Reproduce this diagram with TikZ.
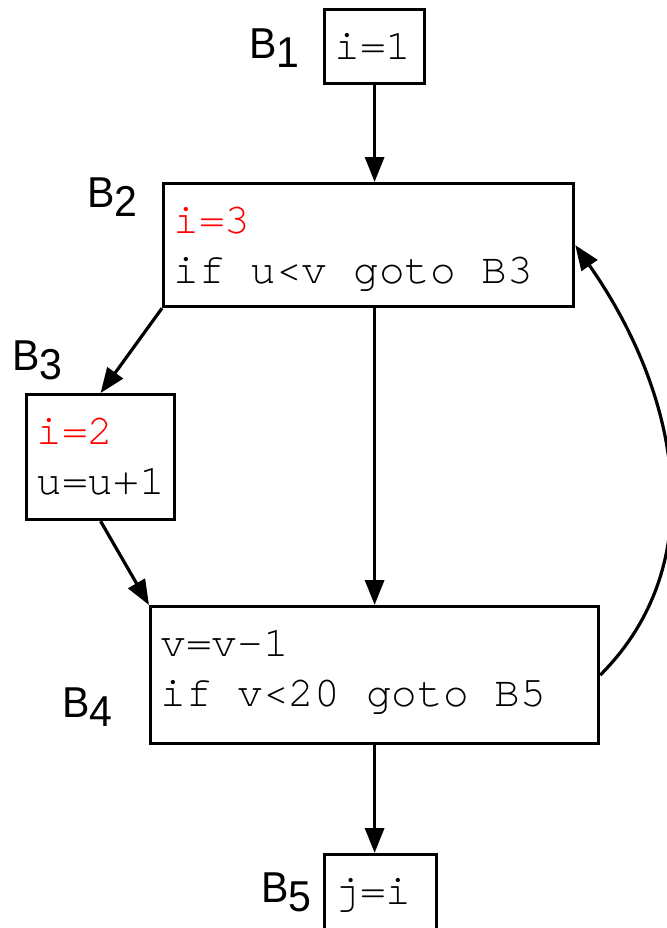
\documentclass[tikz,border=0pt]{standalone}
\usepackage{fontspec}
\usepackage{xcolor}
\usepackage{tikz}
\usetikzlibrary{positioning,arrows.meta}
\newfontfamily\lblfont[FakeStretch=0.95]{Liberation Sans}
\newfontfamily\cursorfont{TeX Gyre Cursor}
\newcommand{\codefont}{\cursorfont\fontsize{21.4pt}{25pt}\selectfont}
\newcommand{\blkname}[1]{B\raisebox{-4.5pt}{#1}}
\newcommand{\codelines}[2]{\parbox[b]{#1}{\raggedright #2}}

\begin{document}
\begin{tikzpicture}[x=0.5pt,y=-0.5pt,
   blk/.style={draw,line width=1.6pt,inner xsep=5pt,inner ysep=0pt,anchor=north west,font=\codefont},
   lbl/.style={inner sep=0pt,anchor=base west,font=\lblfont\fontsize{21.6pt}{22pt}\selectfont},
   arr/.style={-{Triangle[length=12.5pt,width=9.5pt]},line width=1.6pt}]
 \useasboundingbox (0,0) rectangle (667,928);
 % basic blocks, placed by their top left corner
 \node[blk,text height=25pt,text depth=12pt] (b1) at (323,8) {\codelines{40pt}{i=1}};
 \node[blk,text height=50pt,text depth=11.5pt] (b2) at (162,182)
   {\codelines{195pt}{\textcolor{red}{i=3}\\if u<v goto B3}};
 \node[blk,text height=50pt,text depth=12.5pt] (b3) at (25,393)
   {\codelines{64pt}{\textcolor{red}{i=2}\\u=u+1}};
 \node[blk,text height=50pt,text depth=18.5pt] (b4) at (149,605)
   {\codelines{214pt}{v=v-1\\if v<20 goto B5}};
 \node[blk,text height=25pt,text depth=20pt] (b5) at (323,853) {\codelines{46pt}{j=i}};
 % block names
 \node[lbl] (l1) at (249,58) {\blkname{1}};
 \node[lbl] (l2) at (87,207) {\blkname{2}};
 \node[lbl] (l3) at (12,370) {\blkname{3}};
 \node[lbl] (l4) at (62,717) {\blkname{4}};
 \node[lbl] (l5) at (261,902) {\blkname{5}};
 % flow edges
 \draw[arr] (b1.south) -- (b1.south |- b2.north);
 \draw[arr] (b2.south west) -- (b3.north);
 \draw[arr] (b3.south) -- (b4.north west);
 \draw[arr] (b1.south |- b2.south) -- (b1.south |- b4.north);
 \draw[arr] (b1.south |- b4.south) -- (b1.south |- b5.north);
 \draw[arr] (b4.east) .. controls +(115,-115) and +(101,144) .. (b2.east);
\end{tikzpicture}
\end{document}
